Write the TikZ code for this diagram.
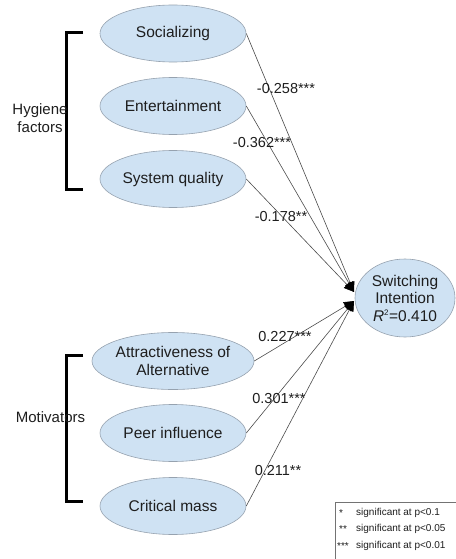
\documentclass[tikz,border=0pt]{standalone}
\usepackage{fontspec}
\setmainfont{Liberation Sans}
\usetikzlibrary{shapes.geometric,arrows.meta}

\definecolor{nodefill}{RGB}{207,226,243}
\definecolor{nodeline}{RGB}{150,162,175}
\definecolor{txt}{RGB}{30,30,30}

\tikzset{
  construct/.style={ellipse, draw=nodeline, fill=nodefill, line width=0.6pt,
    minimum width=146pt, minimum height=57pt, inner sep=0pt, align=center,
    text=txt, font=\fontsize{15.5}{17.5}\selectfont},
  target/.style={construct, minimum width=100pt, minimum height=78pt},
  path/.style={draw=black!70, line width=0.6pt},
  pathtip/.style={path, -{Triangle[length=10pt,width=9pt,black]}},
  coef/.style={text=txt, font=\fontsize{14.5}{16}\selectfont, inner sep=0pt},
  group/.style={line width=3pt, line cap=butt},
  grouplabel/.style={text=txt, font=\fontsize{15}{18}\selectfont, align=center, inner sep=0pt},
  legendtext/.style={text=txt, font=\fontsize{10}{12}\selectfont, inner sep=0pt, anchor=west},
}

\begin{document}
\begin{tikzpicture}[x=1pt, y=-1pt]
  \useasboundingbox[fill=white] (0,0) rectangle (455,559);

  % constructs
  \node[construct] (soc) at (173,33.5) {Socializing};
  \node[construct] (ent) at (173,106) {Entertainment};
  \node[construct] (sys) at (173,179) {System quality};
  \node[construct] (att) at (173,361) {Attractiveness of\\Alternative};
  \node[construct] (peer) at (173,433) {Peer influence};
  \node[construct] (crit) at (173,506) {Critical mass};
  \node[target] (si) at (405,298) {Switching\\Intention\\\textit{R}\textsuperscript{\fontsize{8}{8}\selectfont 2}=0.410};

  % arrow tips at the dependent construct
  \coordinate (tipA) at (354,292);
  \coordinate (tipB) at (354,301);

  % structural paths
  \draw[pathtip] (soc.east) -- (tipA);
  \draw[pathtip] (ent.east) -- (tipA);
  \draw[pathtip] (sys.east) -- (tipA);
  \draw[pathtip] (att.east) -- (tipB);
  \draw[pathtip] (peer.east) -- (tipB);
  \draw[pathtip] (crit.east) -- (tipB);

  % path coefficients
  \node[coef] (c1) at (286,89) {-0.258***};
  \node[coef] (c2) at (262,143) {-0.362***};
  \node[coef] (c3) at (281,217) {-0.178**};
  \node[coef] (c4) at (285,337) {0.227***};
  \node[coef] (c5) at (279,399) {0.301***};
  \node[coef] (c6) at (278,471) {0.211**};

  % group brackets
  \draw[group] (83,33) -- (66,33) -- (66,189) -- (83,189);
  \node[grouplabel] (hyg) at (40,118) {Hygiene\\factors};
  \draw[group] (83,355) -- (66,355) -- (66,501) -- (83,501);
  \node[grouplabel] (mot) at (50.5,417) {Motivators};

  % significance legend
  \draw[draw=black!55, line width=0.6pt] (335,502) rectangle (470,575);
  \node[legendtext] (s1) at (339,513) {*};
  \node[legendtext] (s2) at (339,529) {**};
  \node[legendtext] (s3) at (337,546) {***};
  \node[legendtext] (l1) at (356,513) {significant at p<0.1};
  \node[legendtext] (l2) at (356,529) {significant at p<0.05};
  \node[legendtext] (l3) at (356,546) {significant at p<0.01};
\end{tikzpicture}
\end{document}
